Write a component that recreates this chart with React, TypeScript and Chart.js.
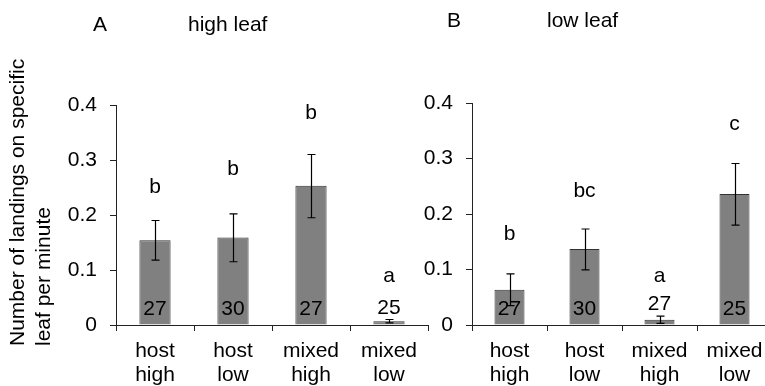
import React, { useEffect, useRef } from "react";
import { Chart, registerables } from "chart.js";

Chart.register(...registerables);

// ---------- data ----------
const categories = [["host", "high"], ["host", "low"], ["mixed", "high"], ["mixed", "low"]];
const yTickValues = [0, 0.1, 0.2, 0.3, 0.4];

const highLeafMeans = [0.154, 0.159, 0.253, 0.007];
const highLeafErrUp = [0.19, 0.202, 0.31, 0.01];
const highLeafErrDown = [0.118, 0.115, 0.195, 0.004];
const highLeafLetters = ["b", "b", "b", "a"];
const highLeafLetterLevel = [0.24, 0.273, 0.374, 0.079];
const highLeafN = ["27", "30", "27", "25"];

const lowLeafMeans = [0.0635, 0.137, 0.0095, 0.236];
const lowLeafErrUp = [0.092, 0.173, 0.016, 0.291];
const lowLeafErrDown = [0.035, 0.0995, 0.003, 0.18];
const lowLeafLetters = ["b", "bc", "a", "c"];
const lowLeafLetterLevel = [0.153, 0.23, 0.078, 0.351];
const lowLeafN = ["27", "30", "27", "25"];

const yTitleLines = ["Number of landings on specific", "leaf per minute"];

// ---------- style ----------
const FONT = "'Liberation Sans', Arial, Helvetica, sans-serif";
const FS = 21;

type PanelCfg = {
  key: string;
  means: number[];
  errUp: number[];
  errDown: number[];
  letters: string[];
  letterLevel: number[];
  n: string[];
  letter: string;
  title: string;
  letterPos: [number, number];
  titlePos: [number, number];
  canvasW: number;
  area: { left: number; right: number; top: number; bottom: number };
  yTitle: boolean;
};

function makePlugin(cfg: PanelCfg) {
  return {
    id: "annot_" + cfg.key,
    afterDatasetsDraw(chart: any) {
      const ctx = chart.ctx as CanvasRenderingContext2D;
      const y = chart.scales.y;
      const meta = chart.getDatasetMeta(0);
      ctx.save();
      // error bars
      ctx.strokeStyle = "#000";
      ctx.lineWidth = 1.2;
      meta.data.forEach((bar: any, i: number) => {
        const cx = Math.round(bar.x) + 0.5;
        const yt = y.getPixelForValue(cfg.errUp[i]);
        const yb = y.getPixelForValue(cfg.errDown[i]);
        ctx.beginPath();
        ctx.moveTo(cx, yt);
        ctx.lineTo(cx, yb);
        ctx.moveTo(cx - 4, yt);
        ctx.lineTo(cx + 4, yt);
        ctx.moveTo(cx - 4, yb);
        ctx.lineTo(cx + 4, yb);
        ctx.stroke();
      });
      // letters and n labels
      ctx.fillStyle = "#000";
      ctx.font = `${FS}px ${FONT}`;
      ctx.textAlign = "center";
      ctx.textBaseline = "alphabetic";
      const zeroPx = y.getPixelForValue(0);
      meta.data.forEach((bar: any, i: number) => {
        ctx.fillText(cfg.letters[i], bar.x, y.getPixelForValue(cfg.letterLevel[i]));
        const barTop = y.getPixelForValue(cfg.means[i]);
        const insideBar = zeroPx - barTop > 20;
        const nb = insideBar ? zeroPx - 10 : Math.min(zeroPx - 10, y.getPixelForValue(cfg.errUp[i]) - 6);
        ctx.fillText(cfg.n[i], bar.x, nb);
      });
      // panel titles
      ctx.textAlign = "left";
      ctx.fillText(cfg.letter, cfg.letterPos[0], cfg.letterPos[1]);
      ctx.fillText(cfg.title, cfg.titlePos[0], cfg.titlePos[1]);
      // y-axis title
      if (cfg.yTitle) {
        ctx.save();
        ctx.translate(23.5, 346);
        ctx.rotate(-Math.PI / 2);
        ctx.textAlign = "left";
        yTitleLines.forEach((line, i) => ctx.fillText(line, 0, i * 26));
        ctx.restore();
      }
      ctx.restore();
    },
  };
}

function Panel({ cfg }: { cfg: PanelCfg }) {
  const ref = useRef<HTMLCanvasElement | null>(null);
  useEffect(() => {
    if (!ref.current) return;
    const H = 386;
    const chart = new Chart(ref.current, {
      type: "bar",
      data: {
        labels: categories,
        datasets: [
          {
            data: cfg.means,
            backgroundColor: "#808080",
            borderColor: "#333333",
            borderWidth: 1,
            barPercentage: 0.4,
            categoryPercentage: 1,
          },
        ],
      },
      options: {
        animation: false,
        responsive: false,
        maintainAspectRatio: false,
        events: [],
        layout: {
          padding: {
            left: 0,
            top: cfg.area.top,
            right: cfg.canvasW - cfg.area.right,
            bottom: 0,
          },
        },
        plugins: {
          legend: { display: false },
          tooltip: { enabled: false },
          title: { display: false },
        },
        scales: {
          x: {
            offset: true,
            grid: {
              display: true,
              offset: true,
              drawOnChartArea: false,
              drawTicks: true,
              tickLength: 6,
              color: "#222",
            },
            border: { display: true, color: "#222", width: 1 },
            ticks: {
              color: "#000",
              font: { family: FONT, size: FS, lineHeight: 1.16 },
              padding: 8,
              maxRotation: 0,
              autoSkip: false,
            },
            afterFit: (s: any) => {
              s.height = H - cfg.area.bottom;
            },
          },
          y: {
            min: 0,
            max: 0.4,
            afterBuildTicks: (s: any) => {
              s.ticks = yTickValues.map((v) => ({ value: v }));
            },
            grid: {
              display: true,
              drawOnChartArea: false,
              drawTicks: true,
              tickLength: 6,
              color: "#222",
            },
            border: { display: true, color: "#222", width: 1 },
            ticks: {
              color: "#000",
              font: { family: FONT, size: FS },
              padding: 13,
              callback: (v: any) => (Number(v) === 0 ? "0" : Number(v).toFixed(1)),
            },
            afterFit: (s: any) => {
              s.width = cfg.area.left;
            },
          },
        },
      },
      plugins: [makePlugin(cfg)],
    });
    return () => chart.destroy();
  }, [cfg]);
  return (
    <canvas
      ref={ref}
      width={cfg.canvasW}
      height={386}
      style={{ position: "absolute", left: 0, top: 0, width: cfg.canvasW, height: 386 }}
    />
  );
}

const leftCfg: PanelCfg = {
  key: "high",
  means: highLeafMeans,
  errUp: highLeafErrUp,
  errDown: highLeafErrDown,
  letters: highLeafLetters,
  letterLevel: highLeafLetterLevel,
  n: highLeafN,
  letter: "A",
  title: "high leaf",
  letterPos: [93, 31],
  titlePos: [188, 31],
  canvasW: 765,
  area: { left: 116, right: 428, top: 105, bottom: 325 },
  yTitle: true,
};

const rightCfg: PanelCfg = {
  key: "low",
  means: lowLeafMeans,
  errUp: lowLeafErrUp,
  errDown: lowLeafErrDown,
  letters: lowLeafLetters,
  letterLevel: lowLeafLetterLevel,
  n: lowLeafN,
  letter: "B",
  title: "low leaf",
  letterPos: [447, 27],
  titlePos: [547, 27],
  canvasW: 780,
  area: { left: 472, right: 772, top: 103, bottom: 325 },
  yTitle: false,
};

export default function App() {
  return (
    <div
      style={{
        position: "fixed",
        left: 0,
        top: 0,
        width: 765,
        height: 386,
        overflow: "hidden",
        background: "#fff",
      }}
    >
      <Panel cfg={leftCfg} />
      <Panel cfg={rightCfg} />
    </div>
  );
}
